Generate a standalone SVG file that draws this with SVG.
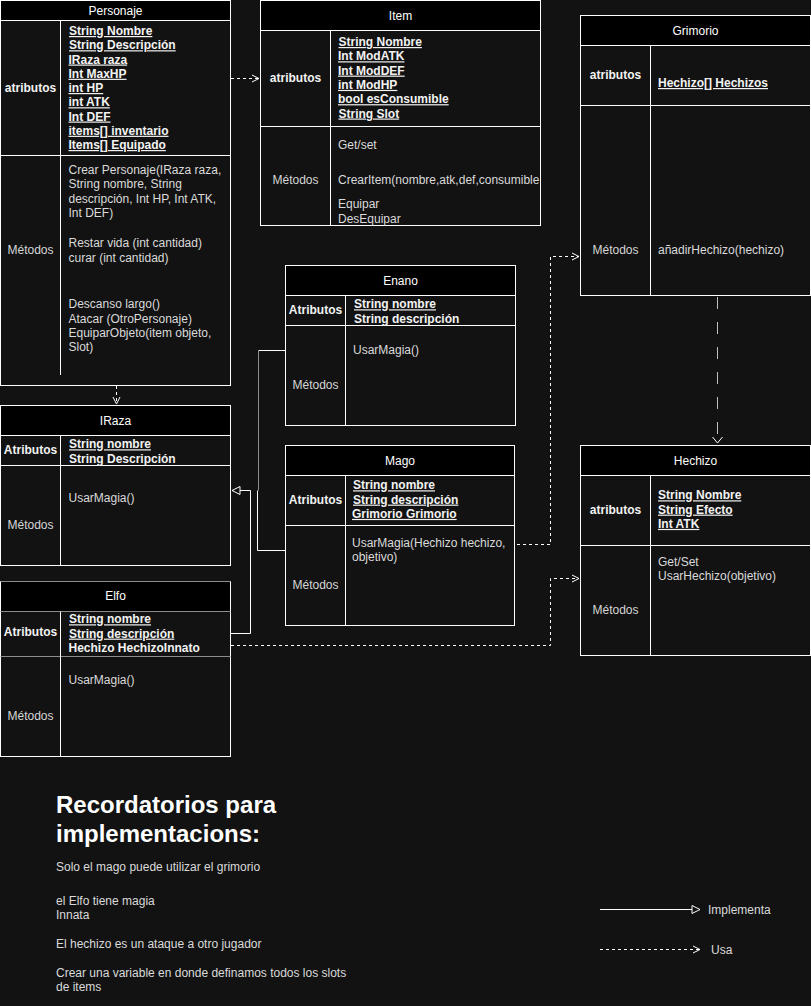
<svg xmlns="http://www.w3.org/2000/svg" width="811" height="1006" viewBox="0 0 811 1006">
<style>
text{font-family:"Liberation Sans",Arial,Helvetica,sans-serif;font-size:12px;}
.box{fill:#121212;stroke:#ffffff;stroke-width:1;}
.hdr{fill:#000000;stroke:#ffffff;stroke-width:1;}
.ln{stroke:#ffffff;stroke-width:1;fill:none;}
.lng{stroke:#8c8c8c;stroke-width:1;fill:none;}
.title{fill:#ffffff;text-anchor:middle;}
.lbl{fill:#f2f2f2;font-weight:bold;text-anchor:middle;}
.met{fill:#d6d6d6;text-anchor:middle;}
.att{fill:#f2f2f2;font-weight:bold;text-decoration:underline;}
.attn{fill:#f2f2f2;font-weight:bold;}
.txt{fill:#dadada;}
.solid{stroke:#ffffff;stroke-width:1;fill:none;}
.dash{stroke:#ffffff;stroke-width:1;fill:none;stroke-dasharray:3 3;}
.ldash{stroke:#c0c0c0;stroke-width:1;fill:none;stroke-dasharray:12 13;}
</style>
<defs>
<marker id="open" viewBox="0 0 10 10" refX="8" refY="5" markerWidth="10" markerHeight="10" markerUnits="userSpaceOnUse" orient="auto">
<path d="M1,1.5 L8,5 L1,8.5" fill="none" stroke="#ffffff" stroke-width="1"/>
</marker>
<marker id="tri" viewBox="0 0 10 10" refX="9" refY="5" markerWidth="10" markerHeight="10" markerUnits="userSpaceOnUse" orient="auto">
<path d="M1,1 L9,5 L1,9 Z" fill="#121212" stroke="#ffffff" stroke-width="1"/>
</marker>
</defs>
<rect x="0" y="0" width="811" height="1006" fill="#121212"/>

<g id="connectors">
<path class="dash" d="M231,78.5 H259" marker-end="url(#open)"/>
<path class="dash" d="M116.5,386 V404" marker-end="url(#open)"/>
<path class="solid" d="M285,350.5 H258.5"/>
<path class="lng" d="M258.5,350.5 V490.5"/>
<path class="solid" d="M285,550.5 H257.5 V490.5"/>
<path class="solid" d="M231,633.5 H250.5 V490.5 H232" marker-end="url(#tri)"/>
<path class="dash" d="M517,544.5 H550.5 V256.5 H579" marker-end="url(#open)"/>
<path class="dash" d="M231,645.5 H550.5 V578.5 H579" marker-end="url(#open)"/>
<path class="ldash" d="M717.5,297 V444" />
<path class="solid" d="M712.5,437 L717.5,443 L722.5,437" />
</g>

<g id="Personaje">
<rect class="box" x="0.5" y="0.5" width="230" height="385"/>
<rect class="hdr" x="0.5" y="0.5" width="230" height="20"/>
<line class="ln" x1="0.5" y1="155.5" x2="230.5" y2="155.5"/>
<line class="ln" x1="60.5" y1="20.5" x2="60.5" y2="375"/>
<text class="title" x="115.5" y="14.5">Personaje</text>
<text class="lbl" x="30.5" y="91.5">atributos</text>
<text class="att" x="69" y="35">String Nombre<tspan x="69" dy="14.25">String Descripción</tspan><tspan x="68.5" dy="14.25">IRaza raza</tspan><tspan x="68.5" dy="14.25">Int MaxHP</tspan><tspan x="68.5" dy="14.25">int HP</tspan><tspan x="68.5" dy="14.25">int ATK</tspan><tspan x="68.5" dy="14.25">Int DEF</tspan><tspan x="68.5" dy="14.25">items[] inventario</tspan><tspan x="68.5" dy="14.25">Items[] Equipado</tspan></text>
<text class="met" x="30.5" y="254">Métodos</text>
<text class="txt" x="68.5" y="174">Crear Personaje(IRaza raza,<tspan x="68.5" dy="14.3">String nombre, String</tspan><tspan x="68.5" dy="14.3">descripción, Int HP, Int ATK,</tspan><tspan x="68.5" dy="14.3">Int DEF)</tspan></text>
<text class="txt" x="68.5" y="247.3">Restar vida (int cantidad)<tspan x="68.5" dy="14.3">curar (int cantidad)</tspan></text>
<text class="txt" x="68.5" y="308.3">Descanso largo()<tspan x="68.5" dy="14.3">Atacar (OtroPersonaje)</tspan><tspan x="68.5" dy="14.3">EquiparObjeto(item objeto,</tspan><tspan x="68.5" dy="14.3">Slot)</tspan></text>
</g>

<g id="Item">
<rect class="box" x="260.5" y="0.5" width="280" height="225"/>
<rect class="hdr" x="260.5" y="0.5" width="280" height="30"/>
<line class="ln" x1="260.5" y1="126.5" x2="540.5" y2="126.5"/>
<line class="ln" x1="330.5" y1="30.5" x2="330.5" y2="225.5"/>
<text class="title" x="400.5" y="19.5">Item</text>
<text class="lbl" x="295.5" y="82">atributos</text>
<text class="att" x="338.5" y="46">String Nombre<tspan x="338" dy="14.3">Int ModATK</tspan><tspan x="338" dy="14.3">Int ModDEF</tspan><tspan x="338" dy="14.3">int ModHP</tspan><tspan x="338" dy="14.3">bool esConsumible</tspan><tspan x="338.5" dy="14.3">String Slot</tspan></text>
<text class="met" x="295.5" y="184">Métodos</text>
<text class="txt" x="338" y="149">Get/set</text>
<text class="txt" x="338" y="184">CrearItem(nombre,atk,def,consumible</text>
<text class="txt" x="338" y="208.3">Equipar<tspan x="338" dy="14.3">DesEquipar</tspan></text>
</g>

<g id="Grimorio">
<rect class="box" x="580.5" y="15.5" width="230" height="280"/>
<rect class="hdr" x="580.5" y="15.5" width="230" height="30"/>
<line class="ln" x1="580.5" y1="105.5" x2="810.5" y2="105.5"/>
<line class="ln" x1="650.5" y1="45.5" x2="650.5" y2="295.5"/>
<text class="title" x="695.5" y="34.5">Grimorio</text>
<text class="lbl" x="615.5" y="79">atributos</text>
<text class="att" x="658" y="87">Hechizo[] Hechizos</text>
<text class="met" x="615.5" y="254">Métodos</text>
<text class="txt" x="658" y="254">añadirHechizo(hechizo)</text>
</g>

<g id="Enano">
<rect class="box" x="285.5" y="265.5" width="230" height="160"/>
<rect class="hdr" x="285.5" y="265.5" width="230" height="30"/>
<line class="ln" x1="285.5" y1="325.5" x2="515.5" y2="325.5"/>
<line class="ln" x1="345.5" y1="295.5" x2="345.5" y2="425.5"/>
<text class="title" x="400.5" y="284.5">Enano</text>
<text class="lbl" x="315.5" y="314">Atributos</text>
<text class="att" x="354" y="308.3">String nombre</text>
<text class="attn" x="354" y="322.6">String descripción</text>
<text class="txt" x="353" y="354">UsarMagia()</text>
<text class="met" x="315.5" y="389">Métodos</text>
</g>

<g id="Mago">
<rect class="box" x="285.5" y="445.5" width="229" height="180"/>
<rect class="hdr" x="285.5" y="445.5" width="229" height="30"/>
<line class="ln" x1="285.5" y1="525.5" x2="514.5" y2="525.5"/>
<line class="ln" x1="345.5" y1="475.5" x2="345.5" y2="625.5"/>
<text class="title" x="400" y="464.5">Mago</text>
<text class="lbl" x="315.5" y="504">Atributos</text>
<text class="att" x="353" y="489.3">String nombre<tspan x="353" dy="14.3">String descripción</tspan><tspan x="352" dy="14.3">Grimorio Grimorio</tspan></text>
<text class="txt" x="352" y="546.7">UsarMagia(Hechizo hechizo,<tspan x="352" dy="14.3">objetivo)</tspan></text>
<text class="met" x="315.5" y="589">Métodos</text>
</g>

<g id="IRaza">
<rect class="box" x="0.5" y="405.5" width="230" height="160"/>
<rect class="hdr" x="0.5" y="405.5" width="230" height="30"/>
<line class="ln" x1="0.5" y1="465.5" x2="230.5" y2="465.5"/>
<line class="ln" x1="60.5" y1="435.5" x2="60.5" y2="565.5"/>
<text class="title" x="115.5" y="424.5">IRaza</text>
<text class="lbl" x="30.5" y="454">Atributos</text>
<text class="att" x="69" y="448.3">String nombre</text>
<text class="attn" x="69" y="462.6">String Descripción</text>
<text class="txt" x="68.5" y="501.7">UsarMagia()</text>
<text class="met" x="30.5" y="529">Métodos</text>
</g>

<g id="Elfo">
<rect class="box" x="0.5" y="581.5" width="230" height="175"/>
<rect x="0.5" y="581.5" width="230" height="30" fill="#000000"/>
<line class="ln" x1="0.5" y1="581.5" x2="0.5" y2="756.5"/>
<line class="ln" x1="230.5" y1="581.5" x2="230.5" y2="756.5"/>
<line class="lng" x1="0.5" y1="581.5" x2="230.5" y2="581.5"/>
<line class="lng" x1="0.5" y1="611.5" x2="230.5" y2="611.5"/>
<line class="lng" x1="0.5" y1="656.5" x2="230.5" y2="656.5"/>
<line class="ln" x1="60.5" y1="611.5" x2="60.5" y2="756.5"/>
<text class="title" x="115.5" y="599.5">Elfo</text>
<text class="lbl" x="30.5" y="636">Atributos</text>
<text class="att" x="69" y="623.3">String nombre<tspan x="69" dy="14.3">String descripción</tspan></text>
<text class="attn" x="68.5" y="651.9">Hechizo HechizoInnato</text>
<text class="txt" x="68.5" y="684">UsarMagia()</text>
<text class="met" x="30.5" y="720">Métodos</text>
</g>

<g id="Hechizo">
<rect class="box" x="580.5" y="445.5" width="230" height="210"/>
<rect class="hdr" x="580.5" y="445.5" width="230" height="30"/>
<line class="ln" x1="580.5" y1="545.5" x2="810.5" y2="545.5"/>
<line class="ln" x1="650.5" y1="475.5" x2="650.5" y2="655.5"/>
<text class="title" x="695.5" y="464.5">Hechizo</text>
<text class="lbl" x="615.5" y="514">atributos</text>
<text class="att" x="658" y="499.3">String Nombre<tspan x="658" dy="14.3">String Efecto</tspan><tspan x="658" dy="14.3">Int ATK</tspan></text>
<text class="txt" x="658" y="566">Get/Set<tspan x="658" dy="14.3">UsarHechizo(objetivo)</tspan></text>
<text class="met" x="615.5" y="614">Métodos</text>
</g>

<g id="notes">
<text x="56" y="813" fill="#ffffff" font-weight="bold" style="font-size:24px">Recordatorios para<tspan x="56" dy="29">implementacions:</tspan></text>
<text class="txt" x="56" y="871">Solo el mago puede utilizar el grimorio</text>
<text class="txt" x="56" y="905">el Elfo tiene magia<tspan x="56" dy="14.3">Innata</tspan></text>
<text class="txt" x="56" y="947.7">El hechizo es un ataque a otro jugador</text>
<text class="txt" x="56" y="976.7">Crear una variable en donde definamos todos los slots<tspan x="56" dy="14.3">de items</tspan></text>
</g>

<g id="legend">
<path class="solid" d="M600,909.5 H700" marker-end="url(#tri)"/>
<text class="txt" x="708" y="913.5">Implementa</text>
<path class="dash" d="M600,949.5 H700" marker-end="url(#open)"/>
<text class="txt" x="711" y="953.5">Usa</text>
</g>
</svg>
